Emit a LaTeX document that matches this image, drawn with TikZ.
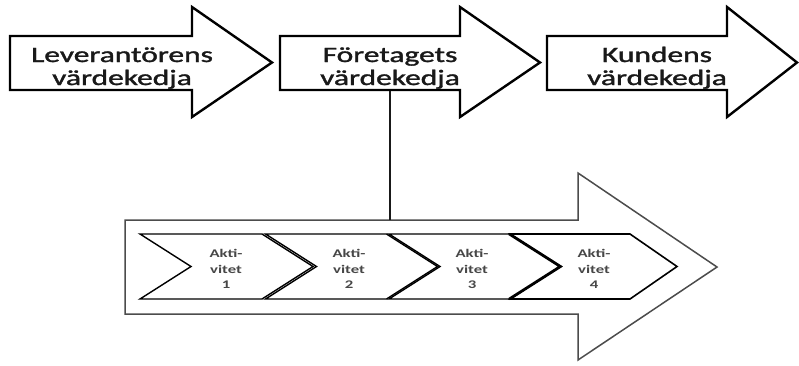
\documentclass[tikz,border=0pt]{standalone}
\usepackage{fontspec}
\setmainfont{Carlito}
\newfontfamily\heavyfont[FakeBold=1.3]{Carlito}
\newcommand{\widetext}[1]{\scalebox{1.43}[1]{#1}}
\tikzset{
  toparrow/.style={draw=black, line width=2.4pt, fill=white, line join=miter},
  bigarrow/.style={draw=black!70, line width=1.5pt, fill=white},
  chevbox/.style={draw=black, line width=1.4pt, fill=white, line join=miter},
  toplabel/.style={anchor=base, inner sep=0pt, font=\heavyfont\fontsize{22}{24}\selectfont, text=black!90},
  actlabel/.style={anchor=base, inner sep=0pt, font=\bfseries\fontsize{11.7}{15}\selectfont, text=black!72},
  link/.style={draw=black!90, line width=2.8pt}
}
\begin{document}
\begin{tikzpicture}[x=1pt,y=-1pt]
\useasboundingbox (0,0) rectangle (799,365);
% top arrows
\draw[toparrow] (10,36) -- (192,36) -- (192,7) -- (272,62.5) -- (192,117) -- (192,90) -- (10,90) -- cycle;
\draw[toparrow] (280,36) -- (460,36) -- (460,7) -- (540,62.5) -- (460,117) -- (460,90) -- (280,90) -- cycle;
\draw[toparrow] (547,36) -- (727,36) -- (727,7) -- (797,62.5) -- (727,117) -- (727,90) -- (547,90) -- cycle;
\node[toplabel] (l1a) at (122,62) {\widetext{Leverantörens}};
\node[toplabel] (l1b) at (122,85) {\widetext{värdekedja}};
\node[toplabel] (l2a) at (390,62) {\widetext{Företagets}};
\node[toplabel] (l2b) at (390,85) {\widetext{värdekedja}};
\node[toplabel] (l3a) at (657,62) {\widetext{Kundens}};
\node[toplabel] (l3b) at (657,85) {\widetext{värdekedja}};
% big arrow
\draw[bigarrow] (125,220) -- (578,220) -- (578,173) -- (717,267) -- (578,360) -- (578,314) -- (125,314) -- cycle;
% connector
\coordinate (firmbottom) at (390,91);
\coordinate (bigtop) at (390,220);
\draw[link] (firmbottom) -- (bigtop);
% chevrons
\foreach \l/\w in {140/122, 265.5/121, 389/120}{
  \draw[chevbox] (\l,234) -- ({\l+\w},234) -- ({\l+\w+51},266.5) -- ({\l+\w},299) -- (\l,299) -- ({\l+51},266.5) -- cycle;
}
\draw[chevbox, line width=1.6pt] (510.5,234) -- (630,234) -- (677,266.5) -- (630,299) -- (510.5,299) -- (561.5,266.5) -- cycle;
\draw[chevbox, line width=2.4pt] (509,234) -- (560,266.5) -- (509,299);
\node[actlabel] (a1a) at (226,257) {\widetext{Akti-}};
\node[actlabel] (a1b) at (226,273) {\widetext{vitet}};
\node[actlabel] (a1c) at (226,288) {\widetext{1}};
\node[actlabel] (a2a) at (349,257) {\widetext{Akti-}};
\node[actlabel] (a2b) at (349,273) {\widetext{vitet}};
\node[actlabel] (a2c) at (349,288) {\widetext{2}};
\node[actlabel] (a3a) at (472,257) {\widetext{Akti-}};
\node[actlabel] (a3b) at (472,273) {\widetext{vitet}};
\node[actlabel] (a3c) at (472,288) {\widetext{3}};
\node[actlabel] (a4a) at (594,257) {\widetext{Akti-}};
\node[actlabel] (a4b) at (594,273) {\widetext{vitet}};
\node[actlabel] (a4c) at (594,288) {\widetext{4}};
\end{tikzpicture}
\end{document}
